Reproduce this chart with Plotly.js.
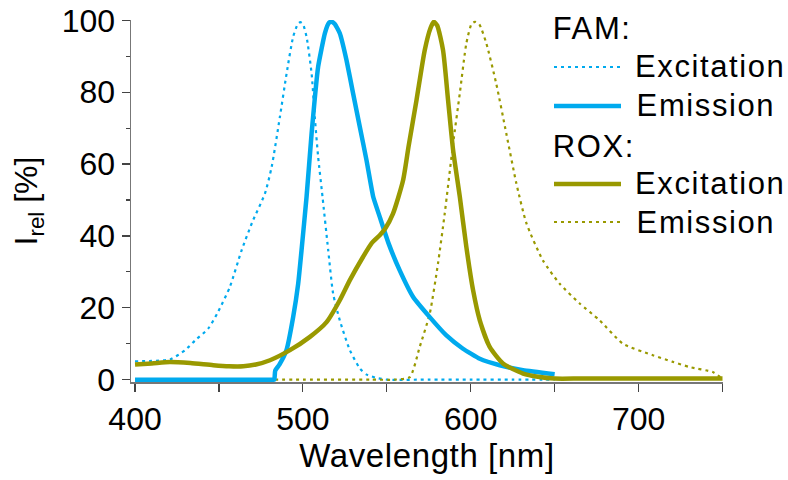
<!DOCTYPE html>
<html>
<head>
<meta charset="utf-8">
<script src="https://cdn.plot.ly/plotly-3.0.1.min.js"></script>
<style>
html,body{margin:0;padding:0;background:#fff}
#chart{width:788px;height:480px}
#chart .annotation-text{letter-spacing:1.6px}
#chart .xtitle{letter-spacing:0.6px}
</style>
</head>
<body>
<div id="chart"></div>
<script>
// FAM excitation (dotted cyan)
var famExX = [400, 410, 420.8, 429.8, 436, 443.6, 449.4, 456.5, 463.5, 470, 477.4, 481.4, 486.3, 490.3, 494.2, 497, 498.5, 500, 502.2, 505.2, 507.1, 509.1, 511.7, 515.1, 518, 522, 528, 534, 538, 543.8, 550, 575, 600, 625, 650];
var famExY = [5.1, 5.2, 5.6, 8.2, 11, 14.2, 18.8, 25.8, 36, 44, 51.8, 59.2, 73.1, 85.2, 95.4, 99, 99.5, 99, 95.4, 85.2, 73.1, 62, 50.9, 36, 24, 16.5, 8.2, 3.1, 1.4, 0.5, 0, 0, 0, 0, 0];
// FAM emission (solid cyan)
var famEmX = [400, 420, 440, 460, 475, 482, 483, 483.5, 486, 490.2, 494.2, 497.2, 499.2, 502.2, 505.2, 509.1, 513.1, 515.5, 517.1, 519, 522, 526, 529.9, 533.9, 537.9, 541.9, 545.8, 551, 557.7, 565.7, 575.6, 585.5, 595.4, 605.4, 617.3, 631.2, 650];
var famEmY = [0, 0, 0, 0, 0, 0, 0, 2.5, 4.2, 8.2, 17.4, 26.7, 36, 50.9, 68.5, 87.1, 96.4, 99.3, 99.6, 99, 96.4, 88.9, 79.7, 70.4, 61.1, 50.9, 45.3, 38, 30.4, 23, 17.4, 12.3, 8.6, 5.8, 4, 2.6, 1.5];
// ROX excitation (solid olive)
var roxExX = [400, 410, 420.8, 433, 446.6, 456, 464.5, 472, 480.4, 492.3, 504.2, 514.1, 522, 528, 535.9, 541, 545.8, 549, 553.7, 559.7, 563, 567.7, 572.6, 576, 578, 580, 583.5, 586.5, 589.5, 593.5, 597.4, 601.4, 605.4, 611.3, 619.2, 631.2, 640, 650, 665, 680, 700, 725, 750];
var roxExY = [4.2, 4.5, 4.9, 4.6, 4, 3.7, 3.7, 4.2, 5.4, 8.2, 11.9, 16, 22.1, 27.7, 34.2, 38, 40.2, 42, 46.2, 55.5, 65, 77.8, 91.7, 97.8, 99.6, 98.6, 91.7, 77.8, 63.9, 50.9, 36.9, 24.9, 16.5, 9.1, 4.5, 1.7, 0.8, 0.3, 0.3, 0.3, 0.3, 0.3, 0.3];
// ROX emission (dotted olive)
var roxEmX = [400, 450, 500, 540, 555, 563.7, 569.6, 575.6, 580.5, 584.5, 589.5, 593.5, 597.4, 600.5, 602.5, 605, 609.3, 615.2, 621.2, 627.2, 633.2, 643, 653, 664.9, 676.8, 690.7, 708.5, 720, 730.4, 744.2, 749.8];
var roxEmY = [0, 0, 0, 0, 0, 0.7, 9.1, 18.4, 32.3, 46.2, 65.7, 79.7, 93.6, 99, 99.6, 99, 93.6, 82.4, 68.5, 54.6, 43.5, 33.2, 26.7, 21.2, 16.5, 10, 6.8, 5, 3.5, 2.1, 0.3];

var legendHeaders = ['FAM:', 'ROX:'];
var legendNames = ['Excitation', 'Emission', 'Excitation', 'Emission'];

var CYAN = '#00AAEE', OLIVE = '#999900';
var FONT = 'Liberation Sans, Arial, sans-serif';
var DOT = '3px,4px';

var traces = [
  {x: famExX, y: famExY, mode: 'lines', line: {color: CYAN, width: 2.2, dash: DOT, shape: 'spline', smoothing: 0.6}, name: legendNames[0]},
  {x: roxEmX, y: roxEmY, mode: 'lines', line: {color: OLIVE, width: 2.2, dash: DOT, shape: 'spline', smoothing: 0.6}, name: legendNames[3]},
  {x: famEmX, y: famEmY, mode: 'lines', line: {color: CYAN, width: 4.5, shape: 'spline', smoothing: 0.4}, name: legendNames[1]},
  {x: roxExX, y: roxExY, mode: 'lines', line: {color: OLIVE, width: 4.5, shape: 'spline', smoothing: 0.6}, name: legendNames[2]}
];

// plot area in pixels
var L = 131, R = 723, T = 20, B = 382;
function px(x) { return (x - L) / (R - L); }
function py(y) { return (B - y) / (B - T); }

var styles = [
  {color: CYAN, width: 2.2, dash: DOT},
  {color: CYAN, width: 4.5},
  {color: OLIVE, width: 4.5},
  {color: OLIVE, width: 2.2, dash: DOT}
];
var rowY = [67, 106, 184, 222];
var headY = [28, 146];

var shapes = [], annotations = [];
for (var i = 0; i < 4; i++) {
  shapes.push({type: 'line', xref: 'paper', yref: 'paper', x0: px(554), x1: px(621), y0: py(rowY[i]), y1: py(rowY[i]), line: styles[i]});
  annotations.push({xref: 'paper', yref: 'paper', x: px(641), y: py(rowY[i]), xanchor: 'left', yanchor: 'middle', text: legendNames[i], showarrow: false, font: {family: FONT, size: 31, color: '#000'}});
}
for (var j = 0; j < 2; j++) {
  annotations.push({xref: 'paper', yref: 'paper', x: px(554), y: py(headY[j]), xanchor: 'left', yanchor: 'middle', text: legendHeaders[j], showarrow: false, font: {family: FONT, size: 31, color: '#000'}});
}

var layout = {
  width: 788, height: 480,
  margin: {l: L, r: 788 - R, t: T, b: 480 - B},
  paper_bgcolor: '#fff', plot_bgcolor: '#fff',
  showlegend: false,
  font: {family: FONT, size: 30, color: '#000'},
  xaxis: {
    range: [397.6, 750.3], showgrid: false, zeroline: false,
    showline: true, linecolor: '#777', linewidth: 1.5,
    ticks: 'outside', ticklen: 8, tickwidth: 1.2, tickcolor: '#444',
    tick0: 400, dtick: 100,
    minor: {tick0: 400, dtick: 50, ticks: 'outside', ticklen: 8, tickwidth: 1.2, tickcolor: '#444', showgrid: false},
    tickfont: {family: FONT, size: 32, color: '#000'},
    title: {text: 'Wavelength [nm]', font: {family: FONT, size: 33, color: '#000'}, standoff: 6}
  },
  yaxis: {
    range: [-0.66, 100.1], showgrid: false, zeroline: false,
    showline: true, linecolor: '#777', linewidth: 1.5,
    ticks: 'outside', ticklen: 8, tickwidth: 1.2, tickcolor: '#444',
    tick0: 0, dtick: 20,
    minor: {dtick: 10, ticks: 'outside', ticklen: 4, tickwidth: 1.2, tickcolor: '#444', showgrid: false},
    tickfont: {family: FONT, size: 32, color: '#000'},
    title: {text: 'I<sub>rel</sub> [%]', font: {family: FONT, size: 32, color: '#000'}, standoff: 14}
  },
  shapes: shapes,
  annotations: annotations
};

Plotly.newPlot('chart', traces, layout, {staticPlot: true, displayModeBar: false});
</script>
</body>
</html>
